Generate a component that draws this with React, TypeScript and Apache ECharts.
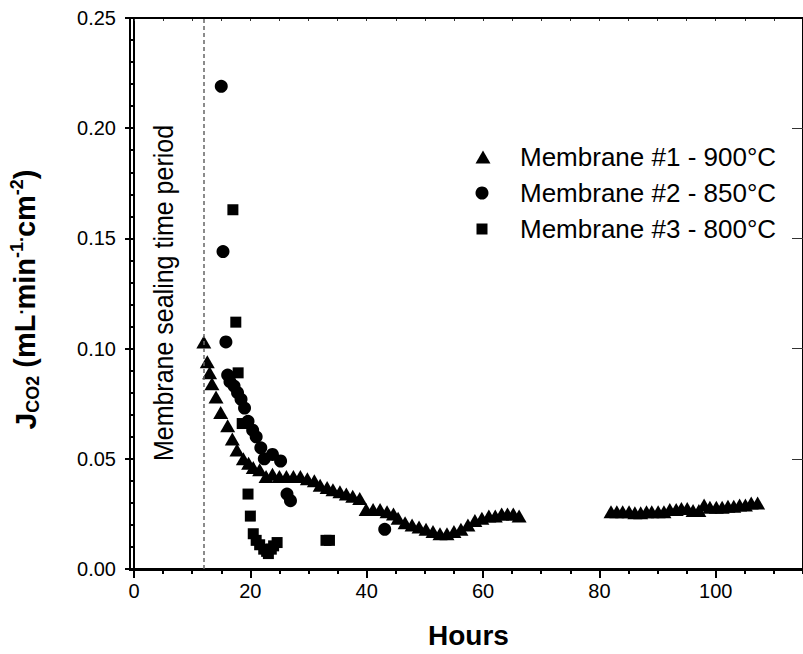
import { useEffect, useRef } from "react";
import * as echarts from "echarts";

// Membrane #1 (900 °C): elapsed hours and CO2 flux
const hours1 = [
  12.0, 12.6, 13.0, 13.4, 14.1, 14.9, 16.1, 16.9, 17.7, 18.8, 19.7, 20.5, 21.6, 22.7, 23.8,
  25.0, 26.2, 27.4, 28.6, 29.8, 31.0, 32.0, 33.2, 34.2, 35.4, 36.5, 37.6, 38.8, 39.9, 41.1,
  42.3, 43.5, 44.6, 45.4, 46.6, 47.8, 49.0, 50.2, 51.4, 52.6, 53.8, 55.0, 56.2, 57.4, 58.6,
  59.8, 61.0, 62.1, 63.2, 64.2, 65.2, 66.2,
  82.0, 83.0, 84.0, 85.1, 86.1, 87.1, 88.1, 89.0, 90.1, 91.1, 92.1, 93.2, 94.1, 95.1, 96.1,
  97.1, 98.0, 99.0, 100.1, 101.1, 102.1, 103.1, 104.1, 105.1, 106.1, 107.2,
];
const flux1 = [
  0.103, 0.094, 0.089, 0.084, 0.078, 0.071, 0.065, 0.059, 0.054, 0.05, 0.048, 0.046, 0.045, 0.042, 0.043,
  0.042, 0.042, 0.042, 0.042, 0.041, 0.04, 0.038, 0.037, 0.036, 0.035, 0.034, 0.033, 0.032, 0.027, 0.027,
  0.027, 0.026, 0.025, 0.023, 0.021, 0.02, 0.019, 0.018, 0.017, 0.016, 0.016, 0.017, 0.018, 0.02, 0.022,
  0.023, 0.024, 0.024, 0.025, 0.025, 0.025, 0.024,
  0.026, 0.026, 0.026, 0.026, 0.0255, 0.0255, 0.026, 0.026, 0.026, 0.026, 0.027, 0.027, 0.0275, 0.0275, 0.0265,
  0.0265, 0.029, 0.028, 0.028, 0.028, 0.0285, 0.0285, 0.029, 0.029, 0.030, 0.030,
];

// Membrane #2 (850 °C)
const hours2 = [
  15.0, 15.3, 15.8, 16.1, 16.5, 17.2, 17.8, 18.4, 19.0, 19.6, 20.4, 21.0, 21.8, 22.4, 23.8, 25.2, 26.3, 26.9, 43.1,
];
const flux2 = [
  0.219, 0.144, 0.103, 0.088, 0.085, 0.083, 0.08, 0.077, 0.073, 0.067, 0.063, 0.06, 0.055, 0.05, 0.052, 0.049, 0.034, 0.031, 0.018,
];

// Membrane #3 (800 °C)
const hours3 = [
  17.0, 17.5, 17.9, 18.6, 19.6, 20.0, 20.5, 21.0, 21.6, 22.3, 22.8, 23.1, 23.6, 24.0, 24.6, 33.0, 33.6,
];
const flux3 = [
  0.163, 0.112, 0.089, 0.066, 0.034, 0.024, 0.016, 0.013, 0.011, 0.009, 0.008, 0.007, 0.009, 0.0105, 0.012, 0.013, 0.013,
];

const seriesNames = ["Membrane #1 - 900°C", "Membrane #2 - 850°C", "Membrane #3 - 800°C"];
const sealingEnd = 12;
const xMax = 115;
const yMax = 0.25;

const FONT = '"Liberation Sans", Arial, Helvetica, sans-serif';

// plot area in page pixels
const PLOT = { left: 130, top: 18, width: 682, height: 552 };

const pairs = (xs: number[], ys: number[]) => xs.map((x, i) => [x, ys[i]]);

export default function App() {
  const ref = useRef<HTMLDivElement>(null);

  useEffect(() => {
    if (!ref.current) return;
    const chart = echarts.init(ref.current, null, { renderer: "svg" });

    const legendRow = (name: string, icon: string, w: number, h: number, cx: number, cy: number) => ({
      show: true,
      data: [{ name, icon }],
      orient: "vertical",
      left: cx - w / 2,
      top: cy - 15,
      itemWidth: w,
      itemHeight: h,
      padding: 0,
      selectedMode: false,
      textStyle: {
        fontFamily: FONT,
        fontSize: 26,
        color: "#000",
        lineHeight: 30,
        padding: [0, 0, 0, 520 - (cx + w / 2) - 5],
      },
    });

    const frameLine = () => ({ show: true, onZero: false, lineStyle: { color: "#000", width: 2 } });
    const tickStyle = { color: "#000", width: 2 };

    chart.setOption({
      animation: false,
      backgroundColor: "#fff",
      grid: { ...PLOT, containLabel: false },
      legend: [
        legendRow(seriesNames[0], "triangle", 15, 13, 483, 157),
        legendRow(seriesNames[1], "circle", 13, 13, 482, 193),
        legendRow(seriesNames[2], "rect", 11, 11, 482, 229),
      ],
      xAxis: [
        {
          type: "value",
          min: 0,
          max: xMax,
          interval: 20,
          position: "bottom",
          axisLine: frameLine(),
          axisTick: { show: true, length: 9, lineStyle: tickStyle },
          axisLabel: { show: true, margin: 12, fontSize: 20, color: "#000", fontFamily: FONT, showMaxLabel: false },
          splitLine: { show: false },
          name: "Hours",
          nameLocation: "middle",
          nameGap: 52,
          nameTextStyle: { fontSize: 28, fontWeight: "bold", color: "#000", fontFamily: FONT },
        },
        {
          type: "value",
          min: 0,
          max: xMax,
          interval: 5,
          position: "bottom",
          axisLine: { show: false, onZero: false },
          axisTick: { show: true, length: 5, lineStyle: tickStyle },
          axisLabel: { show: false },
          splitLine: { show: false },
        },
        {
          type: "value",
          min: 0,
          max: xMax,
          interval: 5,
          position: "top",
          axisLine: frameLine(),
          axisTick: { show: true, inside: true, length: 3, lineStyle: { color: "#333", width: 1 } },
          axisLabel: { show: false },
          splitLine: { show: false },
        },
      ],
      yAxis: [
        {
          type: "value",
          min: 0,
          max: yMax,
          interval: 0.05,
          position: "left",
          axisLine: frameLine(),
          axisTick: { show: true, length: 9, lineStyle: tickStyle },
          minorTick: { show: true, splitNumber: 5, length: 5, lineStyle: tickStyle },
          axisLabel: {
            show: true,
            margin: 18,
            fontSize: 20,
            color: "#000",
            fontFamily: FONT,
            formatter: (v: number) => v.toFixed(2),
          },
          splitLine: { show: false },
          minorSplitLine: { show: false },
          name: "{j|J}{sub|CO2}{b| (mL}{sup|.}{b|min}{sup|-1.}{b|cm}{sup|-2}{b|)}",
          nameLocation: "middle",
          nameRotate: 90,
          nameGap: 92,
          nameTextStyle: {
            fontFamily: FONT,
            fontWeight: "bold",
            color: "#000",
            padding: [0, 12, 0, 0],
            rich: {
              j: { fontSize: 30, fontWeight: "bold", fontFamily: FONT, lineHeight: 34 },
              b: { fontSize: 29, fontWeight: "bold", fontFamily: FONT, lineHeight: 34 },
              sub: { fontSize: 18, fontWeight: "bold", fontFamily: FONT, verticalAlign: "bottom", lineHeight: 19 },
              sup: { fontSize: 18, fontWeight: "bold", fontFamily: FONT, verticalAlign: "top", lineHeight: 19 },
            },
          },
        },
        {
          type: "value",
          min: 0,
          max: yMax,
          interval: 0.05,
          position: "right",
          axisLine: frameLine(),
          axisTick: { show: true, inside: true, length: 11, lineStyle: { color: "#333", width: 1 } },
          axisLabel: { show: false },
          splitLine: { show: false },
        },
      ],
      graphic: [
        {
          // closed plot frame
          type: "rect",
          silent: true,
          z: 50,
          shape: { x: PLOT.left, y: PLOT.top, width: PLOT.width, height: PLOT.height },
          style: { fill: "none", stroke: "#000", lineWidth: 2 },
        },
        {
          type: "text",
          x: 164,
          y: 293,
          rotation: Math.PI / 2,
          scaleY: 1.1,
          silent: true,
          style: {
            text: "Membrane sealing time period",
            fontFamily: FONT,
            fontSize: 25,
            fill: "#000",
            textAlign: "center",
            textVerticalAlign: "middle",
            align: "center",
            verticalAlign: "middle",
          },
        },
      ],
      series: [
        {
          name: seriesNames[0],
          type: "scatter",
          xAxisIndex: 0,
          yAxisIndex: 0,
          symbol: "triangle",
          symbolSize: [15, 13],
          itemStyle: { color: "#000", opacity: 1 },
          data: pairs(hours1, flux1),
          markLine: {
            silent: true,
            symbol: ["none", "none"],
            label: { show: false },
            lineStyle: { type: [4, 3], color: "#666", width: 1.5 },
            data: [{ xAxis: sealingEnd }],
          },
        },
        {
          name: seriesNames[1],
          type: "scatter",
          xAxisIndex: 0,
          yAxisIndex: 0,
          symbol: "circle",
          symbolSize: 13,
          itemStyle: { color: "#000", opacity: 1 },
          data: pairs(hours2, flux2),
        },
        {
          name: seriesNames[2],
          type: "scatter",
          xAxisIndex: 0,
          yAxisIndex: 0,
          symbol: "rect",
          symbolSize: 11,
          itemStyle: { color: "#000", opacity: 1 },
          data: pairs(hours3, flux3),
        },
      ],
    });

    return () => chart.dispose();
  }, []);

  return (
    <div
      ref={ref}
      style={{ position: "fixed", left: 0, top: 0, width: 803, height: 654, background: "#fff" }}
    />
  );
}
